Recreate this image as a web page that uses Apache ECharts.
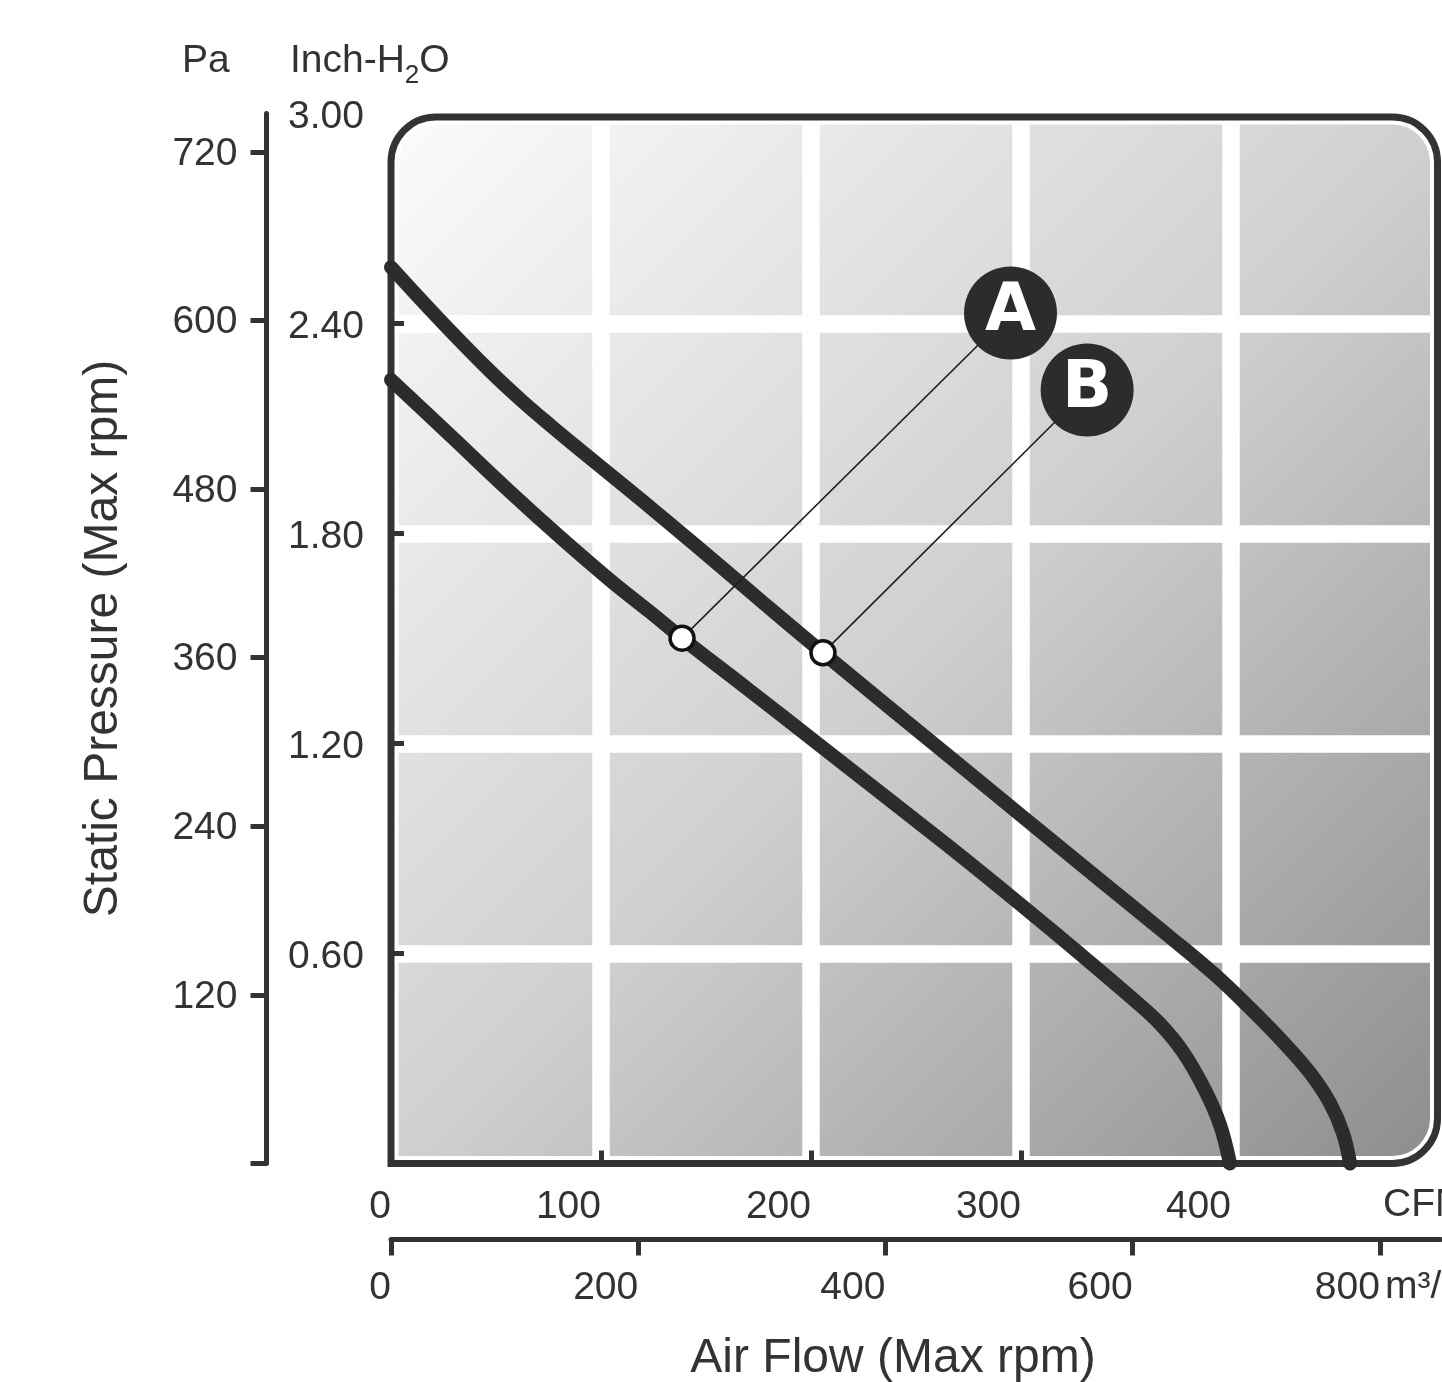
<!DOCTYPE html>
<html><head><meta charset="utf-8">
<script src="https://cdn.jsdelivr.net/npm/echarts@6/dist/echarts.min.js"></script>
<style>html,body{margin:0;padding:0;background:#fff}#c{width:1442px;height:1382px}</style>
</head><body><div id="c"></div>
<script>
// ---------- data ----------
const cfmLabels = [0, 100, 200, 300, 400];
const cfmTicks = [100, 200, 300, 400];
const m3hTicks = [0, 200, 400, 600, 800];
const inchLabels = [0.6, 1.2, 1.8, 2.4, 3.0];
const inchTicks = [0.6, 1.2, 1.8, 2.4];
const paLabels = [120, 240, 360, 480, 600, 720];
const paTicks = [0, 120, 240, 360, 480, 600, 720];
// curves: [CFM, inch-H2O]
const curveA = [[0,2.239],[28.1,2.081],[56.7,1.919],[80.5,1.79],[104.3,1.667],[123.3,1.576],[138.6,1.501],[170.9,1.351],[204.3,1.194],[264.8,0.91],[300.0,0.739],[328.1,0.599],[353.3,0.47],[366.2,0.399],[377.1,0.319],[387.6,0.21],[394.8,0.11],[399.5,0]];
const curveB = [[0,2.561],[23.3,2.41],[47.1,2.264],[61.4,2.184],[75.7,2.11],[90.0,2.039],[118.6,1.899],[147.1,1.756],[175.7,1.61],[205.7,1.459],[266.2,1.161],[337.6,0.81],[370.95,0.647],[392.4,0.539],[409.0,0.444],[424.8,0.347],[437.6,0.259],[447.1,0.173],[453.3,0.087],[456.7,0]];
const pointA = [138.6, 1.501];
const pointB = [205.7, 1.459];
const badgeA = [295, 2.43];
const badgeB = [331.5, 2.21];
const CFM_MAX = 500, INCH_MAX = 3.0;
const PA_PER_INCH = 249.089, M3H_PER_CFM = 1.699;

const FONT = "'Liberation Sans', Arial, sans-serif";
const DARK = '#333333';
const CURVE = '#2e2c2b';

const chart = echarts.init(document.getElementById('c'), null, {renderer: 'canvas'});
const option = {
  animation: false,
  backgroundColor: '#ffffff',
  grid: {left: 391, top: 113.5, right: 1, bottom: 218.5, containLabel: false, outerBoundsMode: 'none'},
  xAxis: [{
    type: 'value', min: 0, max: CFM_MAX, interval: 100, position: 'bottom',
    axisLine: {show: false, onZero: false},
    axisTick: {show: true, inside: true, length: 13, lineStyle: {color: DARK, width: 5}, customValues: cfmTicks},
    axisLabel: {customValues: cfmLabels, align: 'right', margin: 24, color: DARK, fontSize: 39, fontFamily: FONT},
    splitLine: {show: true, lineStyle: {color: '#ffffff', width: 17.5}},
    name: 'Air Flow (Max rpm)', nameLocation: 'middle', nameGap: 171,
    nameTextStyle: {fontSize: 48, color: DARK, fontFamily: FONT, padding: [0, 46, 0, 0]}
  }, {
    type: 'value', min: 0, max: CFM_MAX * M3H_PER_CFM, position: 'bottom', offset: 76,
    axisLine: {show: true, onZero: false, lineStyle: {color: DARK, width: 5}},
    axisTick: {show: true, inside: false, length: 16, lineStyle: {color: DARK, width: 5}, customValues: m3hTicks},
    axisLabel: {customValues: m3hTicks, align: 'right', margin: 29, color: DARK, fontSize: 39, fontFamily: FONT},
    splitLine: {show: false}
  }],
  yAxis: [{
    type: 'value', min: 0, max: INCH_MAX, interval: 0.6, position: 'left',
    axisLine: {show: false, onZero: false},
    axisTick: {show: true, inside: true, length: 13, lineStyle: {color: DARK, width: 5}, customValues: inchTicks},
    axisLabel: {customValues: inchLabels, formatter: v => v.toFixed(2), align: 'left', margin: 103,
      color: DARK, fontSize: 39, fontFamily: FONT, verticalAlign: 'top', lineHeight: 7},
    splitLine: {show: true, lineStyle: {color: '#ffffff', width: 17.5}}
  }, {
    type: 'value', min: 0, max: INCH_MAX * PA_PER_INCH, position: 'left', offset: 124.5,
    axisLine: {show: true, onZero: false, lineStyle: {color: DARK, width: 5}},
    axisTick: {show: true, inside: false, length: 16, lineStyle: {color: DARK, width: 5}, customValues: paTicks},
    axisLabel: {customValues: paLabels, margin: 29, color: DARK, fontSize: 39, fontFamily: FONT,
      verticalAlign: 'top', lineHeight: 4},
    splitLine: {show: false},
    name: 'Static Pressure (Max rpm)', nameLocation: 'middle', nameRotate: 90, nameGap: 139,
    nameTextStyle: {fontSize: 48, color: DARK, fontFamily: FONT}
  }],
  series: [
    {type: 'line', data: curveB, smooth: 0.4, symbol: 'none', clip: false, z: 3, silent: true,
     lineStyle: {color: CURVE, width: 14, cap: 'round', join: 'round'}},
    {type: 'line', data: curveA, smooth: 0.4, symbol: 'none', clip: false, z: 3, silent: true,
     lineStyle: {color: CURVE, width: 14, cap: 'round', join: 'round'}},
    {type: 'line', data: [pointA, badgeA], symbol: 'none', z: 4, silent: true,
     lineStyle: {color: '#1e1e1e', width: 1.6}},
    {type: 'line', data: [pointB, badgeB], symbol: 'none', z: 4, silent: true,
     lineStyle: {color: '#1e1e1e', width: 1.6}},
    {type: 'scatter', data: [pointA, pointB], symbol: 'circle', symbolSize: 24, z: 5, silent: true,
     itemStyle: {color: '#ffffff', borderColor: '#111111', borderWidth: 3.5, opacity: 1}},
    {type: 'scatter', data: [[badgeA[0], badgeA[1], 'A'], [badgeB[0], badgeB[1], 'B']], symbol: 'circle',
     symbolSize: 93, z: 6, silent: true, clip: false,
     itemStyle: {color: CURVE, opacity: 1},
     label: {show: true, position: 'inside', formatter: p => p.data[2], color: '#ffffff',
       fontSize: 66, fontWeight: 'bold', fontFamily: "'DejaVu Sans', sans-serif"}}
  ]
};
chart.setOption(option);

const p0 = chart.convertToPixel({xAxisIndex: 0, yAxisIndex: 0}, [0, 0]);
const p1 = chart.convertToPixel({xAxisIndex: 0, yAxisIndex: 0}, [CFM_MAX, INCH_MAX]);
const x0 = p0[0], y1 = p0[1], x1 = p1[0], y0 = p1[1];
const half = 3.5, R = 45, inset = 7.5;
const fx = x0, fy = y0 + half, fw = (x1 - half) - x0, fh = y1 - fy;

chart.setOption({
  graphic: [
    {type: 'rect', z: -1, silent: true,
     shape: {x: fx + inset, y: fy + inset, width: fw - 2 * inset, height: fh - 2 * inset, r: [R - inset, R - inset, R - inset, 0]},
     style: {fill: new echarts.graphic.LinearGradient(0, 0, 1, 1, [
       {offset: 0, color: '#fbfbfb'}, {offset: 0.5, color: '#d0d0d0'}, {offset: 1, color: '#8e8e8e'}])}},
    {type: 'rect', z: 2, silent: true,
     shape: {x: fx, y: fy, width: fw, height: fh, r: [R, R, R, 0]},
     style: {fill: 'none', stroke: DARK, lineWidth: 7}},
    {type: 'text', z: 2, silent: true, x: x0 - 209, y: y0 - 80,
     style: {text: '{a|Pa}', rich: {a: {fontSize: 39, lineHeight: 55, fontFamily: FONT, fill: DARK, color: DARK}},
       verticalAlign: 'top', textVerticalAlign: 'top'}},
    {type: 'text', z: 2, silent: true, x: x0 - 101, y: y0 - 80,
     style: {text: '{a|Inch-H}{s|2}{a|O}',
       rich: {a: {fontSize: 39, lineHeight: 55, fontFamily: FONT, fill: DARK, color: DARK},
              s: {fontSize: 26, lineHeight: 26, verticalAlign: 'bottom', fontFamily: FONT, fill: DARK, color: DARK}},
       verticalAlign: 'top', textVerticalAlign: 'top'}},
    {type: 'text', z: 2, silent: true, x: x1 - 58, y: y1 + 42,
     style: {text: 'CFM', font: '39px ' + FONT, fill: DARK, verticalAlign: 'middle', textVerticalAlign: 'middle'}},
    {type: 'text', z: 2, silent: true, x: x1 - 56, y: y1 + 124,
     style: {text: 'm³/h', font: '39px ' + FONT, fill: DARK, verticalAlign: 'middle', textVerticalAlign: 'middle'}}
  ]
});
</script></body></html>
